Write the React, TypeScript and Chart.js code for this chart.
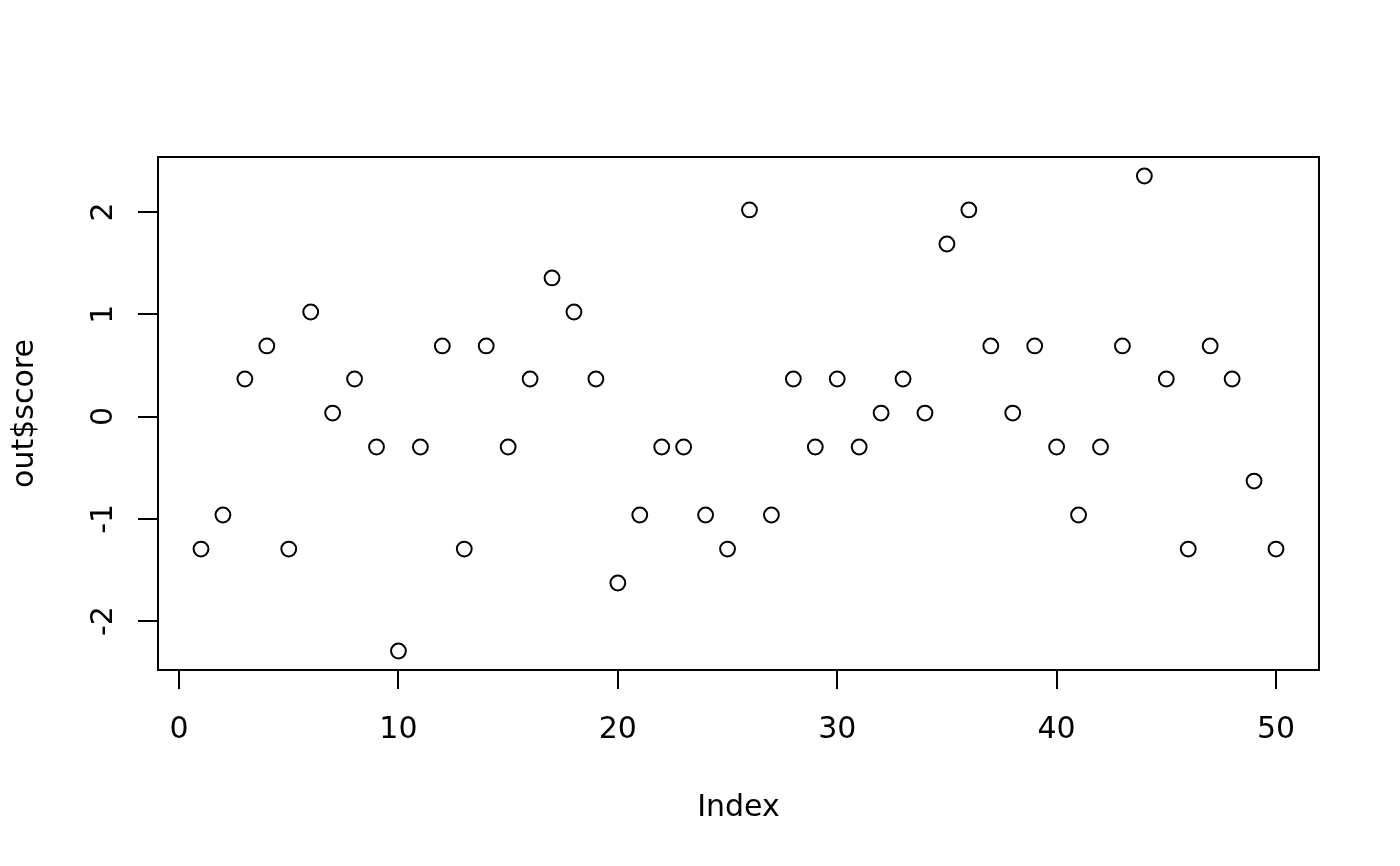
import React, { useEffect, useRef } from "react";
import { Chart, registerables } from "chart.js";

Chart.register(...registerables);

const indices: number[] = Array.from({ length: 50 }, (_, i) => i + 1);
const scores: number[] = [
  -1.296, -0.963, 0.367, 0.69, -1.296, 1.022, 0.034, 0.367, -0.298, -2.293,
  -0.298, 0.69, -1.296, 0.69, -0.298, 0.367, 1.355, 1.022, 0.367, -1.628,
  -0.963, -0.298, -0.298, -0.963, -1.296, 2.02, -0.963, 0.367, -0.298, 0.367,
  -0.298, 0.034, 0.367, 0.034, 1.687, 2.02, 0.69, 0.034, 0.69, -0.298,
  -0.963, -0.298, 0.69, 2.352, 0.367, -1.296, 0.69, 0.367, -0.631, -1.296,
];
const xTicks: number[] = [0, 10, 20, 30, 40, 50];
const yTicks: number[] = [-2, -1, 0, 1, 2];
const xTitle = "Index";
const yTitle = "out$score";

const FONT = "30px 'DejaVu Sans'";

const rAxesPlugin = {
  id: "rAxes",
  afterDraw(chart: any) {
    const { ctx, chartArea, scales } = chart;
    const { left, right, top, bottom } = chartArea;
    ctx.save();
    ctx.strokeStyle = "#000";
    ctx.fillStyle = "#000";
    ctx.lineWidth = 2;
    ctx.strokeRect(left, top, right - left, bottom - top);

    ctx.font = FONT;
    ctx.textAlign = "center";
    ctx.textBaseline = "alphabetic";
    // x axis
    const xs = scales.x;
    ctx.beginPath();
    xTicks.forEach((t) => {
      const px = Math.round(xs.getPixelForValue(t));
      ctx.moveTo(px, bottom);
      ctx.lineTo(px, bottom + 19);
    });
    ctx.stroke();
    xTicks.forEach((t) => {
      const px = xs.getPixelForValue(t);
      ctx.fillText(String(t), px, bottom + 68);
    });
    // y axis
    const ys = scales.y;
    ctx.beginPath();
    yTicks.forEach((t) => {
      const py = Math.round(ys.getPixelForValue(t));
      ctx.moveTo(left, py);
      ctx.lineTo(left - 20, py);
    });
    ctx.stroke();
    yTicks.forEach((t) => {
      const py = ys.getPixelForValue(t);
      ctx.save();
      ctx.translate(left - 46, py);
      ctx.rotate(-Math.PI / 2);
      ctx.fillText(String(t), 0, 0);
      ctx.restore();
    });
    // titles
    ctx.fillText(xTitle, (left + right) / 2, bottom + 146);
    ctx.save();
    ctx.translate(33, (top + bottom) / 2);
    ctx.rotate(-Math.PI / 2);
    ctx.fillText(yTitle, 0, 0);
    ctx.restore();
    ctx.restore();
  },
};

export default function App() {
  const ref = useRef<HTMLCanvasElement | null>(null);
  useEffect(() => {
    if (!ref.current) return;
    const chart = new Chart(ref.current, {
      type: "scatter",
      data: {
        datasets: [
          {
            data: indices.map((x, i) => ({ x, y: scores[i] })),
            pointStyle: "circle",
            pointRadius: 7.4,
            pointHoverRadius: 7.4,
            pointBorderWidth: 2,
            pointBorderColor: "#000",
            pointBackgroundColor: "rgba(0,0,0,0)",
            borderColor: "#000",
            backgroundColor: "rgba(0,0,0,0)",
          },
        ],
      },
      options: {
        responsive: false,
        animation: false,
        devicePixelRatio: 1,
        layout: { padding: { left: 158, top: 157, right: 81, bottom: 196 } },
        plugins: { legend: { display: false }, tooltip: { enabled: false } },
        scales: {
          x: { type: "linear", display: false, min: -0.96, max: 51.96 },
          y: { type: "linear", display: false, min: -2.479, max: 2.538 },
        },
      },
      plugins: [rAxesPlugin],
    });
    return () => chart.destroy();
  }, []);
  return (
    <div style={{ position: "absolute", left: 0, top: 0, width: 1400, height: 866, background: "#fff" }}>
      <canvas ref={ref} width={1400} height={866} style={{ display: "block" }} />
    </div>
  );
}
